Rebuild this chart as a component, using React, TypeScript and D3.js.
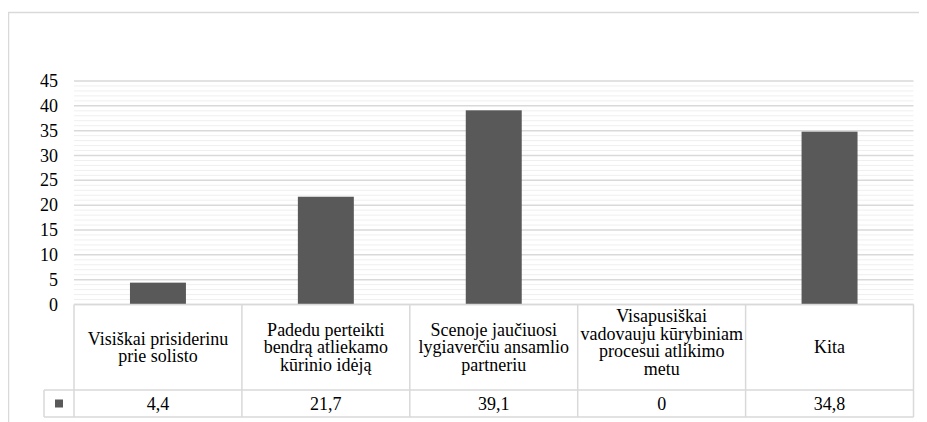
import React, { useLayoutEffect, useRef, useState } from "react";
import * as d3 from "d3";

const categories: string[][] = [
  ["Visiškai prisiderinu", "prie solisto"],
  ["Padedu perteikti", "bendrą atliekamo", "kūrinio idėją"],
  ["Scenoje jaučiuosi", "lygiaverčiu ansamlio", "partneriu"],
  ["Visapusiškai", "vadovauju kūrybiniam", "procesui atlikimo", "metu"],
  ["Kita"],
];
const values: number[] = [4.4, 21.7, 39.1, 0, 34.8];
const valueLabels: string[] = ["4,4", "21,7", "39,1", "0", "34,8"];
const yTicks: number[] = [0, 5, 10, 15, 20, 25, 30, 35, 40, 45];

const W = 927;
const H = 422;
const plotLeft = 74;
const plotRight = 913.5;
const plotTop = 81;
const plotBottom = 304.5;
const catRowBottom = 390;
const tableBottom = 417;
const legendLeft = 44;
const barColor = "#595959";
const borderColor = "#d9d9d9";
const font = "Liberation Serif";

// Text placed at a baseline point; horizontal anchoring is done from the measured width.
function Label({ x, y, anchor, text }: { x: number; y: number; anchor: "start" | "middle" | "end"; text: string }) {
  const ref = useRef<SVGTextElement>(null);
  const [w, setW] = useState(0);
  useLayoutEffect(() => {
    if (ref.current) setW(ref.current.getComputedTextLength());
  }, [text]);
  const k = anchor === "middle" ? 0.5 : anchor === "end" ? 1 : 0;
  return (
    <g transform={`translate(${x},${y}) scale(0.75)`}>
      <text ref={ref} x={-w * k} y={0} fontSize={24} style={{ fontFamily: font }}>
        {text}
      </text>
    </g>
  );
}

export default function App() {
  const x = d3
    .scaleBand<number>()
    .domain(d3.range(values.length))
    .range([plotLeft, plotRight])
    .paddingInner(0)
    .paddingOuter(0);
  const y = d3.scaleLinear().domain([0, 45]).range([plotBottom, plotTop]);
  const bw = x.bandwidth();
  const barW = bw / 3;
  const minor = d3.range(0, 46).filter((v) => v % 5 !== 0);
  const lineH = 17.5;

  return (
    <svg width={W} height={H}>
      <g transform="translate(-8,-8)">
        {/* chart frame */}
        <rect x={8.5} y={12.5} width={W + 10} height={H + 10} fill="none" stroke={borderColor} strokeWidth={1.5} />

        {/* minor grid */}
        {minor.map((v) => (
          <line key={"m" + v} x1={plotLeft} x2={plotRight} y1={y(v)} y2={y(v)} stroke="#efefef" strokeWidth={1} />
        ))}
        {/* major grid */}
        {yTicks.map((v) => (
          <line key={"g" + v} x1={plotLeft} x2={plotRight} y1={y(v)} y2={y(v)} stroke={borderColor} strokeWidth={1.5} />
        ))}

        {/* y tick labels */}
        {yTicks.map((v) => (
          <Label key={"t" + v} x={58} y={y(v) + 6} anchor="end" text={String(v)} />
        ))}

        {/* bars */}
        {values.map((v, i) => (
          <rect
            key={"b" + i}
            x={(x(i) as number) + bw / 2 - barW / 2}
            y={y(v)}
            width={barW}
            height={y(0) - y(v)}
            fill={barColor}
          />
        ))}

        {/* data table */}
        <g stroke={borderColor} strokeWidth={1.5} fill="none">
          <line x1={plotLeft} x2={plotRight} y1={plotBottom} y2={plotBottom} />
          <line x1={legendLeft} x2={plotRight} y1={catRowBottom} y2={catRowBottom} />
          <line x1={legendLeft} x2={plotRight} y1={tableBottom} y2={tableBottom} />
          <line x1={legendLeft} x2={legendLeft} y1={catRowBottom} y2={tableBottom} />
          {d3.range(values.length + 1).map((i) => {
            const xx = i < values.length ? (x(i) as number) : plotRight;
            return <line key={"v" + i} x1={xx} x2={xx} y1={plotBottom} y2={tableBottom} />;
          })}
        </g>

        {categories.map((lines, i) => {
          const cx = (x(i) as number) + bw / 2;
          const cy = (plotBottom + catRowBottom) / 2 - (lines.length > 3 ? 5 : 0);
          const start = cy - ((lines.length - 1) * lineH) / 2;
          return (
            <g key={"c" + i}>
              {lines.map((l, j) => (
                <Label key={j} x={cx} y={start + j * lineH + 6} anchor="middle" text={l} />
              ))}
            </g>
          );
        })}

        {valueLabels.map((s, i) => (
          <Label key={"v" + i} x={(x(i) as number) + bw / 2} y={(catRowBottom + tableBottom) / 2 + 6} anchor="middle" text={s} />
        ))}

        {/* legend key */}
        <rect x={(legendLeft + plotLeft) / 2 - 4} y={(catRowBottom + tableBottom) / 2 - 4} width={8} height={8} fill={barColor} />
      </g>
    </svg>
  );
}
